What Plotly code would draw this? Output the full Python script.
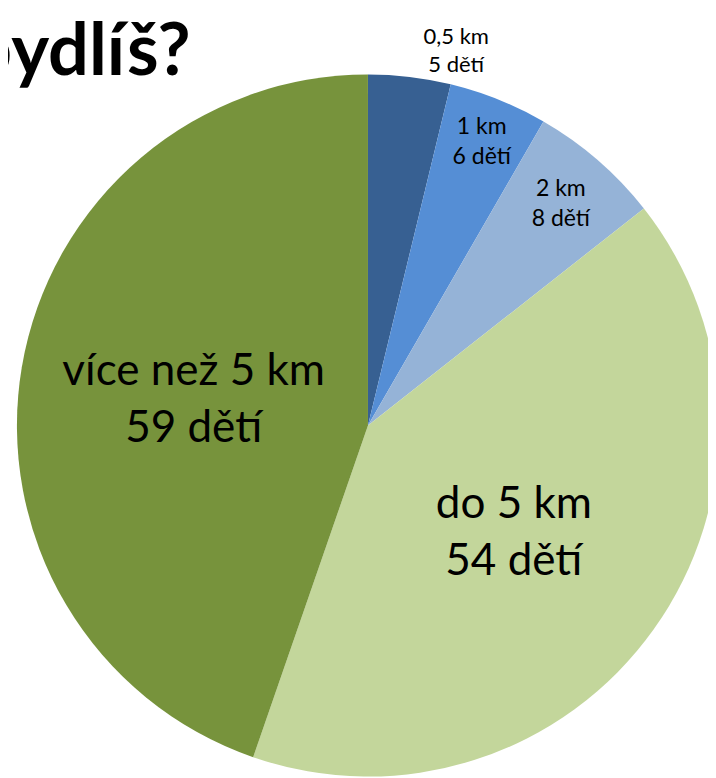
import plotly.graph_objects as go

categories = ["0,5 km", "1 km", "2 km", "do 5 km", "více než 5 km"]
children = [5, 6, 8, 54, 59]
colors = ["#376092", "#558ED5", "#95B3D7", "#C3D69B", "#77933C"]
title_text = "Jak daleko bydlíš?"

labels_text = [f"{c}<br>{v} dětí" for c, v in zip(categories, children)]

W, H = 716, 778
# pie box in figure pixels (page adds an 8px body margin)
x0, x1 = 9, 716
y0, y1 = 64, 771

fig = go.Figure(go.Pie(
    labels=categories,
    values=children,
    text=labels_text,
    textinfo="text",
    sort=False,
    direction="clockwise",
    rotation=0,
    marker=dict(colors=colors, line=dict(width=0)),
    textposition=["outside", "inside", "inside", "inside", "inside"],
    insidetextorientation="horizontal",
    textfont=dict(family="Lato", color="black", size=[23, 23, 23, 44, 44]),
    outsidetextfont=dict(family="Lato", color="black", size=22),
    hoverinfo="skip",
    showlegend=False,
    domain=dict(x=[x0 / W, x1 / W], y=[1 - y1 / H, 1 - y0 / H]),
))

fig.add_annotation(
    text=f"<b>{title_text}</b>", xref="paper", yref="paper",
    x=186 / W, y=1 + 6 / H, xanchor="right", yanchor="top",
    showarrow=False, font=dict(family="Lato", size=72, color="black"),
)

fig.update_layout(
    width=W, height=H,
    margin=dict(l=0, r=0, t=0, b=0),
    paper_bgcolor="white", plot_bgcolor="white",
)

fig.write_html("out.html")
